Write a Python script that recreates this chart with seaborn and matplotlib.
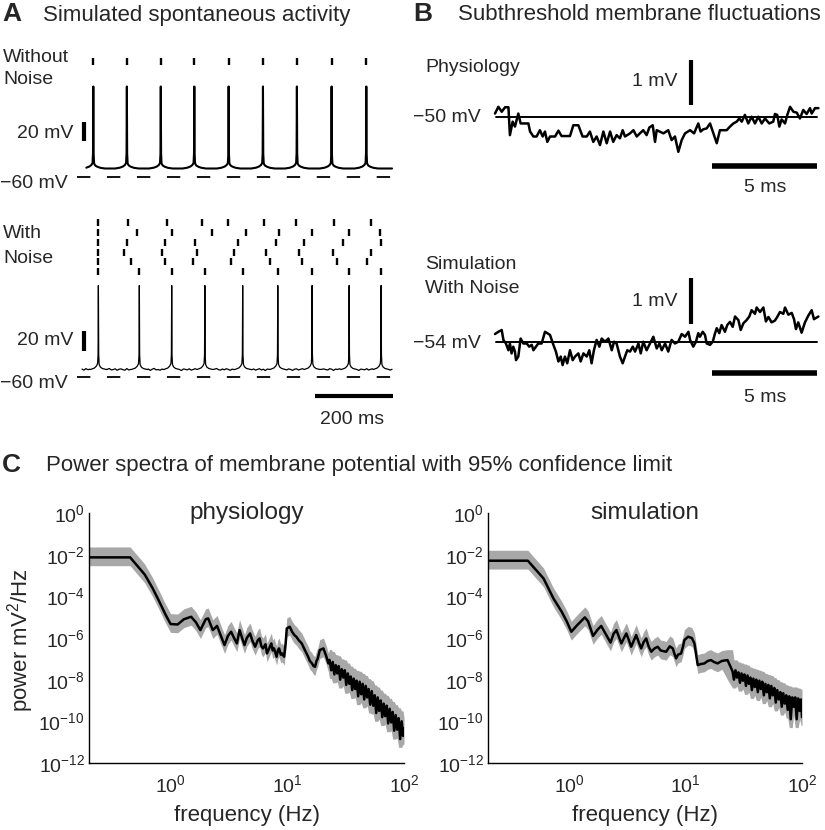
import numpy as np
import pandas as pd
import matplotlib
matplotlib.use("Agg")
import matplotlib.pyplot as plt
import matplotlib.ticker as mticker
import seaborn as sns

# ---------------- A: simulated spontaneous activity (ms, mV) ----------------
clean_spikes = [29, 115, 202, 288, 376, 464, 551, 640, 729]
noisy_raster = [
    [42, 119, 217, 307, 375, 467, 548, 647, 740],
    [42, 140, 230, 333, 420, 505, 591, 685, 764],
    [42, 116, 213, 291, 399, 497, 570, 670, 766],
    [42, 107, 204, 296, 390, 472, 556, 644, 742],
    [42, 126, 213, 285, 382, 482, 563, 654, 732],
    [42, 147, 230, 315, 412, 502, 590, 685, 767],
]
noisy_spikes = noisy_raster[-1]
trace_len = 795
clean_rest = -51.5
noisy_rest = -52.0

# spike waveform: offset from spike peak (ms) -> mV above rest
clean_tpl_dt = [-30, -18, -10, -5, -2, -0.8, 0, 0.8, 2, 5, 10, 18, 30]
clean_tpl_dv = [0, 0.8, 2.0, 3.5, 5.5, 15, 82, 15, 5.0, 3.0, 1.8, 0.7, 0]
noisy_tpl_dt = [-20, -10, -5, -2, -0.8, 0, 0.8, 2, 5, 10, 20]
noisy_tpl_dv = [0, 1.5, 3.5, 6.0, 15, 84, 15, 5.0, 2.5, 1.0, 0]

noise_t = np.arange(0, 800, 5)
noise_mv = [
    0.4, -0.6, 0.9, -0.2, 0.3, -1.1, 0.6, 0.0, -0.5, 0.8,
    -0.3, 0.5, -0.9, 0.2, 1.0, -0.4, -0.1, 0.7, -0.8, 0.3,
    0.6, -0.2, -0.7, 0.9, -0.5, 0.1, 0.8, -1.0, 0.4, -0.3,
    0.2, 0.7, -0.6, -0.1, 0.5, -0.9, 0.3, 1.1, -0.4, 0.0,
    -0.7, 0.4, 0.8, -0.3, -0.8, 0.6, 0.1, -0.5, 0.9, -0.2,
    0.3, -1.0, 0.5, 0.2, -0.4, 0.7, -0.6, 0.0, 0.8, -0.3,
    -0.5, 0.9, -0.1, 0.4, -0.9, 0.2, 0.6, -0.7, 0.3, 1.0,
    -0.2, -0.6, 0.5, -0.3, 0.8, 0.1, -0.8, 0.4, -0.1, 0.6,
    -0.9, 0.3, 0.7, -0.4, 0.0, -0.7, 0.9, -0.2, 0.5, -0.6,
    0.1, 0.8, -0.5, 0.3, -1.0, 0.4, 0.2, -0.3, 0.7, -0.8,
    0.5, -0.1, 0.9, -0.6, 0.2, -0.4, 0.6, 0.0, -0.9, 0.3,
    0.7, -0.5, 0.1, 0.8, -0.3, -0.7, 0.4, 0.9, -0.2, 0.1,
    -0.6, 0.5, -0.8, 0.2, 0.6, -0.1, -0.5, 0.8, 0.3, -0.9,
    0.4, 0.0, 0.7, -0.4, -0.2, 0.9, -0.7, 0.3, 0.5, -0.6,
    -0.1, 0.6, -0.9, 0.4, 0.1, -0.3, 0.8, -0.5, 0.2, 0.7,
    -0.4, 0.3, 0.6, -0.8, 0.5, -0.2, 0.0, 0.9, -0.6, 0.2,
]

# ---------------- B: subthreshold fluctuations (ms, mV from rest) ----------------
phys_rest = -50
phys_t = [0, 0.16, 0.32, 0.48, 0.64, 0.71, 0.84, 0.95, 1.11, 1.22,
          1.59, 1.67, 1.83, 1.98, 2.14, 2.27, 2.38, 2.49, 2.62, 2.86,
          3.02, 3.17, 3.57, 3.73, 3.97, 4.17, 4.37, 4.52, 4.68, 4.84,
          5.0, 5.16, 5.32, 5.48, 5.63, 5.79, 5.95, 6.08, 6.19, 6.43,
          6.59, 6.75, 6.9, 7.06, 7.22, 7.35, 7.51, 7.62, 7.7, 8.02,
          8.25, 8.41, 8.57, 8.73, 8.89, 9.05, 9.29, 9.48, 9.68, 9.79,
          9.92, 10.08, 10.24, 10.4, 10.56, 10.71, 11.03, 11.19, 11.35, 11.51,
          11.63, 11.75, 11.9, 12.06, 12.22, 12.38, 12.54, 12.7, 12.86, 13.06,
          13.25, 13.33, 13.44, 13.54, 13.65, 13.81, 13.92, 14.05, 14.21, 14.37,
          14.52, 14.68, 14.84, 15.0, 15.08, 15.24, 15.4]
phys_dv = [0.07, 0.22, 0.11, 0.21, 0.21, -0.41, -0.11, -0.22, 0.07, -0.15,
           -0.15, -0.33, -0.44, -0.44, -0.30, -0.44, -0.33, -0.56, -0.44, -0.44,
           -0.31, -0.43, -0.43, -0.19, -0.19, -0.44, -0.44, -0.33, -0.56, -0.44,
           -0.63, -0.33, -0.59, -0.33, -0.56, -0.41, -0.48, -0.30, -0.44, -0.37,
           -0.30, -0.44, -0.37, -0.30, -0.41, -0.24, -0.19, -0.56, -0.30, -0.37,
           -0.30, -0.52, -0.44, -0.78, -0.52, -0.37, -0.30, -0.37, -0.15, -0.33,
           -0.28, -0.26, -0.15, -0.37, -0.59, -0.30, -0.30, -0.22, -0.15, -0.11,
           -0.04, -0.11, 0.04, -0.15, 0.0, -0.15, 0.0, -0.15, -0.04, -0.15,
           -0.11, 0.06, 0.04, -0.22, -0.06, -0.15, 0.04, 0.22, 0.11, 0.09,
           -0.04, 0.15, 0.06, 0.19, 0.07, 0.19, 0.19]

sim_rest = -54
sim_t = [0, 0.16, 0.32, 0.40, 0.52, 0.64, 0.71, 0.79, 0.87, 0.95,
         1.0, 1.11, 1.22, 1.35, 1.51, 1.63, 1.75, 1.83, 1.95, 2.06,
         2.22, 2.38, 2.49, 2.62, 2.78, 2.90, 3.02, 3.13, 3.22, 3.33,
         3.44, 3.57, 3.70, 3.81, 3.97, 4.08, 4.21, 4.37, 4.49, 4.60,
         4.71, 4.84, 4.97, 5.08, 5.24, 5.40, 5.56, 5.67, 5.79, 5.95,
         6.08, 6.19, 6.30, 6.43, 6.56, 6.67, 6.83, 6.94, 7.06, 7.22,
         7.38, 7.54, 7.70, 7.83, 7.94, 8.10, 8.25, 8.41, 8.57, 8.73,
         8.89, 9.05, 9.21, 9.29, 9.44, 9.57, 9.68, 9.76, 9.89, 10.0,
         10.08, 10.24, 10.37, 10.48, 10.56, 10.68, 10.79, 10.95, 11.06, 11.19,
         11.32, 11.43, 11.59, 11.70, 11.83, 11.98, 12.11, 12.22, 12.38, 12.46,
         12.62, 12.78, 12.90, 13.02, 13.17, 13.33, 13.44, 13.57, 13.73, 13.81,
         13.97, 14.13, 14.24, 14.33, 14.44, 14.60, 14.76, 14.92, 15.08, 15.19,
         15.4]
sim_dv = [0.17, 0.22, 0.26, 0.04, -0.04, -0.19, -0.04, -0.26, -0.11, -0.22,
          -0.41, -0.33, 0.07, -0.04, -0.04, -0.11, -0.07, -0.19, -0.11, -0.04,
          -0.04, 0.22, 0.19, 0.15, -0.07, -0.22, -0.44, -0.33, -0.52, -0.33,
          -0.48, -0.19, -0.41, -0.33, -0.26, -0.44, -0.26, -0.33, -0.19, -0.48,
          -0.19, 0.04, -0.11, 0.07, 0.0, 0.07, -0.19, 0.0, -0.04, -0.33,
          -0.48, -0.33, -0.19, -0.22, -0.11, -0.22, -0.04, -0.26, 0.0, -0.19,
          -0.04, 0.11, -0.15, -0.04, -0.19, -0.04, -0.22, 0.04, -0.04, 0.0,
          0.17, 0.11, 0.22, 0.04, -0.11, 0.0, 0.19, 0.11, 0.22, 0.15,
          -0.04, -0.07, 0.0, 0.19, 0.30, 0.19, 0.37, 0.22, 0.37, 0.44,
          0.33, 0.56, 0.48, 0.26, 0.41, 0.48, 0.56, 0.70, 0.62, 0.76,
          0.66, 0.76, 0.45, 0.55, 0.43, 0.47, 0.55, 0.66, 0.62, 0.76,
          0.60, 0.64, 0.50, 0.28, 0.43, 0.20, 0.43, 0.58, 0.70, 0.50,
          0.56]

# ---------------- C: power spectra (Hz, log10 mV^2/Hz) ----------------
phys_f = [0.2, 0.45, 0.6, 0.7, 0.8, 0.9, 1.0, 1.15, 1.3, 1.5,
          1.65, 1.8, 2.0, 2.1, 2.3, 2.5, 2.7, 2.9, 3.1, 3.3,
          3.5, 3.7, 3.9, 4.1, 4.3, 4.5, 4.8, 5.0, 5.3, 5.6,
          5.8, 6.0, 6.2, 6.5, 6.7, 7.0, 7.3, 7.5, 7.7, 8.1,
          8.3, 8.5, 8.8, 9.0, 9.4, 9.7, 9.9, 10.5, 11.0, 11.5,
          12.0, 12.5, 13.3, 14.2, 15.1, 15.6, 16.2, 16.8, 17.3, 17.8,
          18.2, 19.0, 20.4, 21.5, 22.5,
          23, 23.8, 24.5, 25.3, 26, 26.8, 27.6, 28.4, 29.3, 30.2,
          31.1, 32, 33, 34, 35, 36, 37.1, 38.2, 39.3, 40.5,
          41.7, 43, 44.3, 45.6, 47, 48.4, 49.8, 51.3, 52.9, 54.5,
          56.1, 57.8, 59.5, 61.3, 63.2, 65.1, 67, 69, 71.1, 73.2,
          75.4, 77.7, 80, 82.4, 84.9, 87.4, 90, 92.7, 95.5, 98.3, 100]
phys_logp = [-2.13, -2.13, -2.95, -3.6, -4.25, -4.85, -5.33, -5.35, -5.1, -4.98,
             -5.25, -5.62, -5.1, -5.06, -5.62, -5.42, -5.9, -6.34, -5.9, -5.7,
             -6.0, -6.26, -5.62, -6.0, -6.34, -6.0, -5.78, -6.1, -6.42, -6.1,
             -6.02, -6.4, -6.5, -6.3, -6.74, -6.5, -6.26, -6.6, -6.5, -6.9,
             -6.6, -6.5, -6.8, -6.74, -6.9, -6.2, -5.54, -5.46, -5.7, -5.86,
             -5.95, -6.1, -6.26, -6.6, -6.9, -7.1, -7.2, -7.35, -7.38, -7.1,
             -7.0, -6.58, -6.5, -6.85, -7.22,
             -7.05, -7.55, -7.15, -7.75, -7.3, -7.7, -7.35, -8.0, -7.5, -7.9,
             -7.55, -8.25, -7.7, -8.2, -7.85, -8.5, -7.95, -8.45, -8.05, -8.8,
             -8.1, -8.7, -8.2, -8.95, -8.3, -8.85, -8.45, -9.2, -8.55, -9.25,
             -8.75, -9.6, -8.85, -9.5, -9.0, -9.8, -9.15, -9.75, -9.25, -10.1,
             -9.4, -10.05, -9.55, -10.45, -9.7, -10.4, -9.85, -10.85, -10.0, -10.7, -10.35]

simu_f = [0.2, 0.44, 0.6, 0.73, 0.86, 0.95, 1.04, 1.17, 1.36, 1.45,
          1.6, 1.75, 1.88, 2.05, 2.26, 2.4, 2.54, 2.65, 2.8, 2.95,
          3.09, 3.25, 3.4, 3.6, 3.76, 3.95, 4.15, 4.35, 4.58, 4.8,
          5.06, 5.4, 5.75, 6.1, 6.8, 7.3, 7.75, 8.0, 8.28, 8.6,
          9.14, 9.5, 9.75, 10.5, 11.3, 11.9, 12.3, 12.7, 13.5, 14.5,
          15.5, 16.5, 17.5, 18.8, 20.5, 22.9,
          25.3, 26, 26.8, 27.6, 28.4, 29.3, 30.2, 31.1, 32, 33,
          34, 35, 36, 37.1, 38.2, 39.3, 40.5, 41.7, 43, 44.3,
          45.6, 47, 48.4, 49.8, 51.3, 52.9, 54.5, 56.1, 57.8, 59.5,
          61.3, 63.2, 65.1, 67, 69, 71.1, 73.2, 75.4, 77.7, 80,
          82.4, 84.9, 87.4, 90, 92.7, 95.5, 98.3, 100]
simu_logp = [-2.29, -2.29, -3.14, -4.1, -4.74, -5.2, -5.7, -5.38, -5.01, -5.2,
             -5.9, -5.6, -5.42, -5.8, -6.22, -5.8, -5.62, -5.9, -6.26, -6.0,
             -5.78, -6.1, -6.42, -6.1, -5.86, -6.2, -6.5, -6.2, -6.02, -6.4,
             -6.66, -6.5, -6.42, -6.6, -6.66, -6.4, -6.5, -6.75, -6.98, -6.8,
             -6.74, -6.4, -6.1, -5.94, -6.0, -6.26, -6.8, -7.3, -7.25, -7.22,
             -7.1, -7.06, -7.15, -7.22, -7.1, -7.06,
             -7.6, -8.0, -7.55, -7.9, -7.65, -8.15, -7.7, -8.05, -7.75, -8.3,
             -7.8, -8.2, -7.9, -8.5, -7.95, -8.35, -8.0, -8.6, -8.05, -8.45,
             -8.1, -8.75, -8.2, -8.6, -8.25, -8.9, -8.3, -8.75, -8.4, -9.1,
             -8.5, -8.95, -8.6, -9.3, -8.65, -9.15, -8.75, -9.45, -8.8, -9.9,
             -8.85, -9.3, -8.85, -9.9, -8.9, -9.5, -8.95, -9.8]
band_hi, band_lo = 0.5, 0.4   # 95% confidence band, decades above / below
dense_from = 22.8             # above this frequency the estimate is jagged

# ---------------- figure ----------------
sns.set_style("white")
plt.rcParams["font.family"] = ["Liberation Sans", "DejaVu Sans"]
plt.rcParams["mathtext.fontset"] = "custom"
plt.rcParams["mathtext.rm"] = "Liberation Sans"
plt.rcParams["mathtext.it"] = "Liberation Sans:italic"
plt.rcParams["mathtext.bf"] = "Liberation Sans:bold"

W, H = 825, 830
fig = plt.figure(figsize=(W / 100, H / 100), dpi=100)


def px_axes(x0, y0, x1, y1):
    return fig.add_axes([x0 / W, 1 - y1 / H, (x1 - x0) / W, (y1 - y0) / H])


def ftext(x, y, s, **kw):
    kw.setdefault("va", "center")
    kw.setdefault("fontsize", 14)
    fig.text(x / W, 1 - y / H, s, **kw)


def build_trace(spikes, rest, dt, dv, extra_t=None, extra_v=None):
    t, v = [], []
    for s in spikes:
        for a, b in zip(dt, dv):
            if 0 <= s + a <= trace_len:
                t.append(s + a)
                v.append(rest + b)
    span = max(abs(min(dt)), max(dt))
    if extra_t is None:
        extra_t, extra_v = [0, trace_len], [0, 0]
    for a, b in zip(extra_t, extra_v):
        if a <= trace_len and min(abs(a - s) for s in spikes) > span:
            t.append(a)
            v.append(rest + b)
    return pd.DataFrame({"t": t, "v": v}).drop_duplicates("t").sort_values("t")


# pixel -> data helpers for panel A (78 px = 200 ms, 1 px = 1 mV)
def tA(x):
    return (x - 82) * 200 / 78


dash = dict(color="k", lw=1.3, dashes=(7.4, 9.2))
bar = dict(color="k", solid_capstyle="butt")

# --- A top: without noise
axA1 = px_axes(70, 45, 400, 190)
mvA1 = lambda y: -60 + (177 - y)
clean_df = build_trace(clean_spikes, clean_rest, clean_tpl_dt, clean_tpl_dv)
sns.lineplot(data=clean_df, x="t", y="v", ax=axA1, color="k", lw=1.5,
             estimator=None, sort=False)
axA1.vlines(clean_spikes, mvA1(65.5), mvA1(58), color="k", lw=1.7)
axA1.plot([tA(77), tA(393)], [-60, -60], **dash)
axA1.plot([tA(84), tA(84)], [mvA1(141), mvA1(122)], lw=3, **bar)
axA1.set_xlim(tA(70), tA(400))
axA1.set_ylim(mvA1(190), mvA1(45))
axA1.set_axis_off()

# --- A bottom: with noise
axA2 = px_axes(70, 205, 400, 435)
mvA2 = lambda y: -60 + (377.5 - y)
noisy_df = build_trace(noisy_spikes, noisy_rest, noisy_tpl_dt, noisy_tpl_dv,
                       noise_t, noise_mv)
sns.lineplot(data=noisy_df, x="t", y="v", ax=axA2, color="k", lw=0.9,
             estimator=None, sort=False)
row_y = [222.7, 232.7, 242.3, 252.3, 261.7, 271.7]
for yc, row in zip(row_y, noisy_raster):
    axA2.vlines(row, mvA2(yc + 3.5), mvA2(yc - 3.5), color="k", lw=1.7)
axA2.plot([tA(77), tA(393)], [-60, -60], **dash)
axA2.plot([tA(84), tA(84)], [mvA2(350.7), mvA2(330.7)], lw=3, **bar)
axA2.plot([tA(315), tA(315) + 200], [mvA2(396), mvA2(396)], lw=3, **bar)
axA2.set_xlim(tA(70), tA(400))
axA2.set_ylim(mvA2(435), mvA2(205))
axA2.set_axis_off()


# --- B panels (21 px = 1 ms, 45 px = 1 mV)
def tB(x):
    return (x - 495) / 21


def trace_panel(box, line_y, rest, t, dv, vbar_px, hbar_px):
    ax = px_axes(*box)
    mv = lambda y: rest + (line_y - y) / 45
    df = pd.DataFrame({"t": t, "v": np.array(dv) + rest})
    sns.lineplot(data=df, x="t", y="v", ax=ax, color="k", lw=1.8,
                 estimator=None, sort=False)
    ax.plot([tB(496), tB(817)], [rest, rest], color="k", lw=1.4)
    ax.plot([tB(691), tB(691)], [mv(vbar_px[1]), mv(vbar_px[0])], lw=3, **bar)
    ax.plot([tB(712), tB(712) + 5], [mv(hbar_px), mv(hbar_px)], lw=4, **bar)
    ax.set_xlim(tB(box[0]), tB(box[2]))
    ax.set_ylim(mv(box[3]), mv(box[1]))
    ax.set_axis_off()
    return ax


assert len(phys_t) == len(phys_dv) and len(sim_t) == len(sim_dv)
trace_panel((490, 45, 825, 205), 116.7, phys_rest, phys_t, phys_dv, (60, 105), 166)
trace_panel((490, 245, 825, 425), 341.7, sim_rest, sim_t, sim_dv, (278, 324), 373)


# --- C power spectra
def spectrum_panel(box, f, logp, title, ylabel):
    ax = px_axes(*box)
    ax.set_xscale("log")
    ax.set_yscale("log")
    f = np.array(f)
    lp = pd.Series(logp)
    dense = f > dense_from
    top = np.where(dense, lp.rolling(3, center=True, min_periods=1).max(), lp)
    bot = np.where(dense, lp.rolling(3, center=True, min_periods=1).min(), lp)
    ax.fill_between(f, 10 ** (bot - band_lo), 10 ** (top + band_hi),
                    color="#a8a8a8", lw=0)
    sns.lineplot(x=f, y=10 ** lp.values, ax=ax, color="k", lw=1.8,
                 estimator=None, sort=False)
    ax.set_xlim(0.2, 100)
    ax.set_ylim(1e-12, 1)
    ax.yaxis.set_major_locator(mticker.FixedLocator(10.0 ** np.arange(-12, 1, 2)))
    ax.yaxis.set_minor_locator(mticker.NullLocator())
    ax.xaxis.set_major_locator(mticker.FixedLocator([1, 10, 100]))
    ax.xaxis.set_minor_locator(mticker.LogLocator(base=10, subs=np.arange(2, 10)))
    ax.xaxis.set_minor_formatter(mticker.NullFormatter())
    ax.tick_params(which="both", direction="in", color="k", width=1,
                   labelsize=14)
    ax.tick_params(axis="y", pad=3)
    ax.tick_params(axis="x", pad=8)
    ax.tick_params(which="major", length=5)
    ax.tick_params(which="minor", length=3)
    sns.despine(ax=ax)
    for s in ("left", "bottom"):
        ax.spines[s].set_color("k")
        ax.spines[s].set_linewidth(1)
    ax.text(0.5, 1.0, title, transform=ax.transAxes, ha="center", va="center",
            fontsize=17.5)
    ax.set_xlabel("frequency (Hz)", fontsize=16, va="center")
    ax.xaxis.set_label_coords(0.5, -0.208)
    if ylabel:
        ax.set_ylabel("power mV$^2$/Hz", fontsize=16, va="center")
        ax.yaxis.set_label_coords(-0.216, 0.49)
    return ax


spectrum_panel((89, 513, 404, 763), phys_f, phys_logp, "physiology", True)
spectrum_panel((488, 513, 802, 763), simu_f, simu_logp, "simulation", False)

# ---------------- text ----------------
ftext(2, 14, "A", fontsize=19, fontweight="bold")
ftext(43, 15, "Simulated spontaneous activity", fontsize=16)
ftext(413, 14, "B", fontsize=19, fontweight="bold")
ftext(458, 15, "Subthreshold membrane fluctuations", fontsize=16)
ftext(2, 465, "C", fontsize=19, fontweight="bold")
ftext(46, 465, "Power spectra of membrane potential with 95% confidence limit",
      fontsize=16)

ftext(3, 57, "Without")
ftext(3, 80, "Noise")
ftext(73, 133, "20 mV", ha="right")
ftext(0, 183, "\u221260 mV")
ftext(3, 233, "With")
ftext(3, 258, "Noise")
ftext(73, 340, "20 mV", ha="right")
ftext(0, 383, "\u221260 mV")
ftext(352, 420, "200 ms", ha="center")

ftext(425, 68, "Physiology")
ftext(677, 82, "1 mV", ha="right")
ftext(413, 118, "\u221250 mV")
ftext(765, 188, "5 ms", ha="center")
ftext(425, 264, "Simulation")
ftext(425, 288, "With Noise")
ftext(677, 301, "1 mV", ha="right")
ftext(413, 343, "\u221254 mV")
ftext(765, 397, "5 ms", ha="center")

fig.savefig("out.png", dpi=100)
